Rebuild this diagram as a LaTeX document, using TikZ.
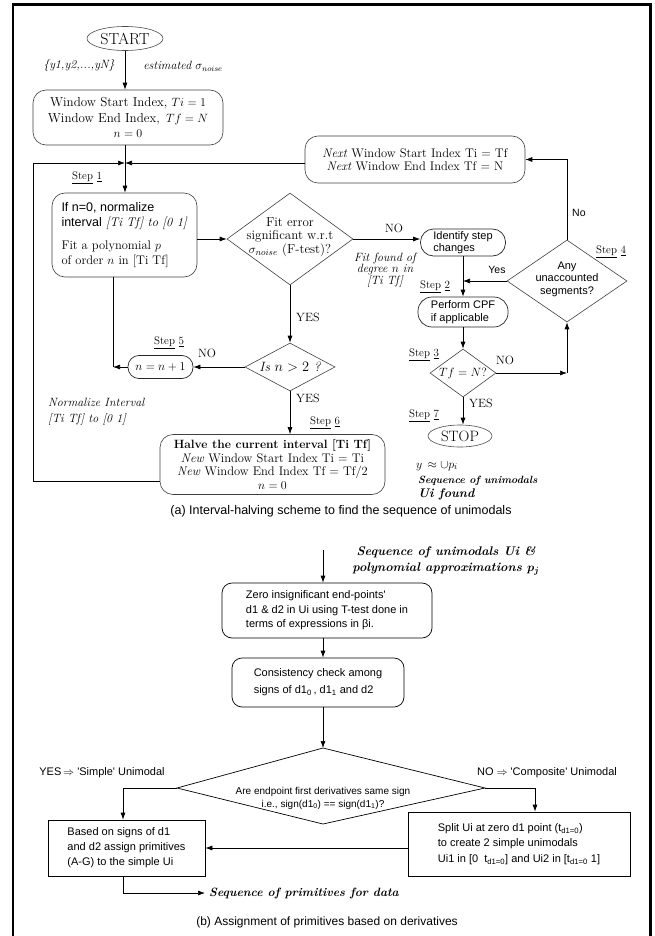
\documentclass[tikz,border=0pt]{standalone}
\usepackage{fontspec}
\newfontfamily\hv{Liberation Sans}
\usetikzlibrary{arrows.meta,shapes.geometric,calc}
\newcommand{\myfs}[2]{\fontsize{#1}{#2}\selectfont}
\begin{document}
\begin{tikzpicture}[x=1pt,y=-1pt,
  every node/.style={inner sep=0pt},
  abox/.style={draw=black!75, line width=0.6pt, rounded corners=13pt, align=center},
  pill/.style={draw=black!85, line width=0.7pt, align=left},
  bbox/.style={draw, line width=0.7pt, rounded corners=10pt, align=left},
  sbox/.style={draw, line width=0.7pt, align=left},
  dia/.style={draw=black!75, line width=0.6pt, diamond, inner sep=0pt},
  ell/.style={draw=black!70, line width=0.6pt, ellipse, inner sep=0pt},
  lbl/.style={inner sep=1pt},
  ln/.style={line width=0.7pt},
  arr/.style={ln, -{Latex[length=7pt,width=5pt]}},
  steplbl/.style={lbl, font=\myfs{11}{13}},
  yn/.style={lbl, font=\myfs{12}{14}},
  ynsans/.style={lbl, font=\hv\myfs{10.5}{12}}
]
\useasboundingbox (0,0) rectangle (654,936);
\draw[line width=2.6pt] (13,940) -- (13,4.3) -- (650.7,4.3) -- (650.7,940);

% ---------------- part (a) ----------------
\node[ell, minimum width=76, minimum height=24, font=\myfs{16}{18}] (start) at (125,38.5) {START};
\node[lbl, font=\myfs{12}{14}\itshape] (ys) at (79,66) {\{y1,y2,...,yN\}};
\node[lbl, font=\myfs{12}{14}\itshape] (sig) at (183,66) {estimated $\sigma_{noise}$};

\node[abox, minimum width=190, minimum height=55, font=\myfs{13}{15.5}] (win) at (128,117.5)
  {Window Start Index, $Ti = 1$\\Window End Index, $\,Tf = N$\\$n = 0$};
\draw[arr] (start) -- (start |- win.north);

\coordinate (J) at (125,163);
\draw[ln] (J |- win.south) -- (J);

\node[abox, minimum width=220, minimum height=47, font=\myfs{12.5}{13.5}] (next) at (415,159.5)
  {\textit{Next} Window Start Index Ti = Tf\\\textit{Next} Window End Index Tf = N};
\draw[arr] (next.west |- J) -- (J);

\node[steplbl] (st1) at (87,178) {\underline{Step}~\underline{1}};
\node[abox, align=left, minimum width=145, minimum height=84, font=\myfs{12.5}{15}] (s1) at (124.5,235)
  {{\hv If n=0, normalize}\\
   {\hv interval} \textit{[Ti Tf] to [0 1]}\\[8pt]
   Fit a polynomial $p$\\of order $n$ in [Ti Tf]};
\draw[arr] (J) -- (J |- s1.north);

\node[dia, minimum width=126, minimum height=92] (fit) at (290,239) {};
\node[lbl, align=center, font=\myfs{13}{13.5}] (fitt) at (290,237)
  {Fit error\\significant w.r.t\\$\sigma_{noise}$ (F-test)?};
\draw[arr] (s1.east |- fit) -- (fit.west);

\node[dia, minimum width=90, minimum height=48] (isd) at (290,367) {};
\node[font=\myfs{13.5}{15}\itshape] (ist) at (isd) {Is $n > 2$ ?};
\draw[arr] (fit.south) -- (isd.north);
\node[yn, anchor=west] (yes1) at (295,317) {YES};

\node[pill, rounded corners=11pt, minimum width=65, minimum height=23, font=\myfs{13}{15}] (nn) at (160.5,367)
  {$n = n + 1$};
\node[steplbl] (st5) at (169,343) {\underline{Step}~\underline{5}};
\draw[arr] (isd.west) -- (nn.east);
\node[yn] (no1) at (207,353) {NO};
\coordinate (c5) at (113,367);
\draw[ln] (c5 |- s1.south) -- (c5);
\draw[arr] (nn.west) -- (c5);

\node[lbl, align=left, anchor=west, font=\myfs{12}{16}\itshape] (norm) at (47,412)
  {Normalize Interval\\{}[Ti Tf] to [0 1]};

\node[abox, minimum width=225, minimum height=60, font=\myfs{12.5}{13.7}] (halve) at (272.5,464.5)
  {{\bfseries\myfs{12}{13.7}Halve the current interval [Ti Tf]}\\
   \textit{New} Window Start Index Ti = Ti\\
   \textit{New} Window End Index Tf = Tf/2\\$n = 0$};
\draw[arr] (isd.south) -- (isd.south |- halve.north);
\node[yn, anchor=west] (yes2) at (295,398) {YES};
\node[steplbl] (st6) at (325,423) {\underline{Step}~\underline{6}};
\coordinate (hl) at (33,481);
\draw[arr] (halve.west |- hl) -- (hl) -- (hl |- J) -- (J);

% right column
\node[pill, rounded corners=13pt, minimum width=85, minimum height=27, font=\hv\myfs{11}{12}] (ident) at (463,242.5)
  {Identify step\\changes};
\draw[arr] (fit.east) -- (fit.east -| ident.west);
\node[yn] (no2) at (394,228) {NO};
\node[lbl, align=center, font=\myfs{12}{11.5}\itshape] (found) at (385,270)
  {Fit found of\\degree $n$ in\\{}[Ti Tf]};
\node[steplbl] (st2) at (435,287) {\underline{Step}~\underline{2}};

\node[pill, rounded corners=14pt, minimum width=90, minimum height=30, font=\hv\myfs{11}{13}] (cpf) at (463,312)
  {Perform CPF\\if applicable};
\draw[arr] (ident.south) -- (cpf.north);

\node[dia, minimum width=120, minimum height=82] (s4) at (567,281) {};
\node[align=center, font=\hv\myfs{11}{12.5}] (s4t) at (567,279) {Any\\unaccounted\\segments?};
\node[steplbl] (st4) at (611,252) {\underline{Step}~\underline{4}};
\draw[arr] (s4.west) -- (s4.west -| ident.south);
\node[ynsans] (yes3) at (497,270) {Yes};
\draw[arr] (s4.north) |- (next.east);
\node[ynsans, anchor=west] (no3) at (571,213) {No};

\node[dia, minimum width=66, minimum height=48] (tfn) at (463,373) {};
\node[font=\myfs{13}{15}] (tfnt) at (tfn) {$Tf = N?$};
\draw[arr] (cpf.south) -- (tfn.north);
\node[steplbl] (st3) at (424,355) {\underline{Step}~\underline{3}};
\node[yn] (no4) at (505,360) {NO};
\coordinate (c3) at (567,373);
\draw[arr] (tfn.east) -- (c3);
\draw[arr] (c3) -- (s4.south);

\node[ell, minimum width=64, minimum height=22, font=\myfs{15}{17}] (stop) at (460,436) {STOP};
\draw[arr] (tfn.south) -- (tfn.south |- stop.north);
\node[yn, anchor=west] (yes4) at (468,403) {YES};
\node[steplbl] (st7) at (424,416) {\underline{Step}~\underline{7}};
\node[lbl, font=\myfs{13}{15}] (yu) at (437,466) {$y\, \approx \cup p_i$};
\node[lbl, anchor=west, font=\myfs{10.5}{12}\bfseries\itshape] (sequ) at (417,481) {Sequence of unimodals};
\node[lbl, anchor=west, font=\myfs{12.5}{14}\bfseries\itshape] (uif) at (417,494.5) {Ui found};

\node[lbl, font=\hv\myfs{12.5}{14}] (capa) at (341,511) {(a) Interval-halving scheme to find the sequence of unimodals};

% ---------------- part (b) ----------------
\node[lbl, align=center, font=\myfs{12.5}{16}\bfseries\itshape] (seqin) at (446,561)
  {Sequence of unimodals Ui \&\\polynomial approximations {\boldmath$p_j$}};
\coordinate (bin) at (323,550);
\node[bbox, minimum width=210, minimum height=55, font=\hv\myfs{11}{14.5}] (zero) at (327,610.5)
  {Zero insignificant end-points'\\d1 \& d2 in Ui using T-test done in\\terms of expressions in βi.};
\draw[arr] (bin) -- (bin |- zero.north);
\node[bbox, minimum width=172, minimum height=49, font=\hv\myfs{11}{17}] (cons) at (318,682.5)
  {Consistency check among\\signs of d1\textsubscript{0}\,, d1\textsubscript{1} and d2};
\draw[arr] (bin |- zero.south) -- (bin |- cons.north);

\coordinate (dT) at (323,748);
\coordinate (dL) at (177,788);
\coordinate (dR) at (485,788);
\coordinate (dB) at (323,824);
\draw[ln] (dT) -- (dR) -- (dB) -- (dL) -- cycle;
\node[align=center, font=\hv\myfs{10}{13}] (dtxt) at (323,798)
  {Are endpoint first derivatives same sign\\i.e., sign(d1\textsubscript{0}) == sign(d1\textsubscript{1})?};
\draw[arr] (bin |- cons.south) -- (dT);

\node[lbl, font=\hv\myfs{11}{13}] (yesb) at (102,773) {YES\,$\Rightarrow$ 'Simple' Unimodal};
\node[lbl, font=\hv\myfs{11}{13}] (nob) at (547,773) {NO $\Rightarrow$ 'Composite' Unimodal};

\node[sbox, minimum width=157, minimum height=56, font=\hv\myfs{11}{15}] (based) at (126.5,848)
  {Based on signs of d1\\and d2 assign primitives\\(A-G) to the simple Ui};
\node[sbox, minimum width=222, minimum height=64, font=\hv\myfs{11}{15.5}] (split) at (519,844)
  {Split Ui at zero d1 point (t\textsubscript{d1=0})\\to create 2 simple unimodals\\Ui1 in [0\ \ t\textsubscript{d1=0}] and Ui2 in [t\textsubscript{d1=0} 1]};

\coordinate (bl) at (123,788);
\coordinate (br) at (535,788);
\draw[arr] (dL) -- (bl) -- (bl |- based.north);
\draw[arr] (dR) -- (br) -- (br |- split.north);
\draw[arr] (split.west |- based) -- (based.east);

\node[lbl, anchor=west, inner sep=4pt, font=\myfs{12}{14}\bfseries\itshape] (seqp) at (205,893) {Sequence of primitives for data};
\coordinate (bb) at (123,893);
\draw[arr] (bl |- based.south) -- (bb) -- (seqp.west);

\node[lbl, font=\hv\myfs{12}{14}] (capb) at (327,922) {(b) Assignment of primitives based on derivatives};
\end{tikzpicture}
\end{document}
